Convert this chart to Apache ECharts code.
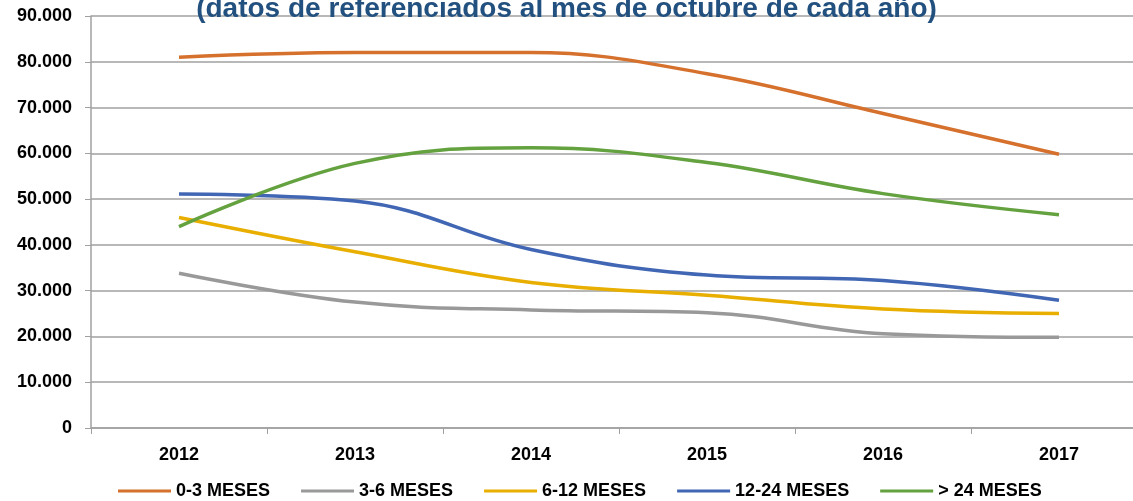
<!DOCTYPE html>
<html>
<head>
<meta charset="utf-8">
<script src="https://cdn.jsdelivr.net/npm/echarts@6/dist/echarts.min.js"></script>
<style>
  html, body { margin: 0; padding: 0; background: #fff; }
  #chart { width: 1133px; height: 501px; }
</style>
</head>
<body>
<div id="chart"></div>
<script>
// años y valores
var years = ['2012', '2013', '2014', '2015', '2016', '2017'];
var meses0_3 = [81000, 82000, 82000, 77400, 68700, 59800];
var meses3_6 = [33800, 27500, 25800, 25200, 20600, 19800];
var meses6_12 = [46000, 38500, 31800, 29000, 26000, 25000];
var meses12_24 = [51100, 49600, 39000, 33400, 32200, 27900];
var meses24 = [44000, 57800, 61200, 58000, 51200, 46600];

var seriesNames = ['0-3 MESES', '3-6 MESES', '6-12 MESES', '12-24 MESES', '> 24 MESES'];
var seriesColors = ['#D6702D', '#999999', '#E8AE00', '#4066B4', '#64A13F'];
var seriesData = [meses0_3, meses3_6, meses6_12, meses12_24, meses24];

function miles(v) {
    if (v === 0) return '0';
    return String(v).replace(/\B(?=(\d{3})+(?!\d))/g, '.');
}

var series = [];
for (var i = 0; i < seriesNames.length; i++) {
    series.push({
        name: seriesNames[i],
        type: 'line',
        data: seriesData[i],
        smooth: 0.4,
        showSymbol: false,
        lineStyle: { color: seriesColors[i], width: 3.5 },
        itemStyle: { color: seriesColors[i] }
    });
}

var myChart = echarts.init(document.getElementById('chart'));
myChart.setOption({
    animation: false,
    title: {
        text: '(datos de referenciados al mes de octubre de cada año)',
        left: 'center',
        top: -10,
        textStyle: {
            color: '#22507F',
            fontSize: 28,
            fontWeight: 'bold',
            fontFamily: 'Liberation Sans'
        }
    },
    legend: {
        data: seriesNames,
        top: 477,
        left: 113,
        itemWidth: 53,
        itemHeight: 3,
        itemGap: 31,
        icon: 'rect',
        textStyle: {
            color: '#000',
            fontSize: 18,
            fontWeight: 'bold',
            fontFamily: 'Liberation Sans'
        }
    },
    grid: {
        left: 91,
        top: 16,
        width: 1056,
        bottom: 73,
        outerBoundsMode: 'none'
    },
    xAxis: {
        type: 'category',
        data: years,
        boundaryGap: true,
        axisLine: { lineStyle: { color: '#A0A0A0', width: 1.5 } },
        axisTick: { show: true, length: 6, lineStyle: { color: '#A0A0A0' } },
        axisLabel: {
            color: '#000',
            fontSize: 18,
            fontWeight: 'bold',
            fontFamily: 'Liberation Sans',
            margin: 18
        }
    },
    yAxis: {
        type: 'value',
        min: 0,
        max: 90000,
        interval: 10000,
        axisLine: { show: true, lineStyle: { color: '#A0A0A0', width: 1.5 } },
        axisTick: { show: true, length: 6, lineStyle: { color: '#A0A0A0' } },
        splitLine: { lineStyle: { color: '#A0A0A0', width: 1.5 } },
        axisLabel: {
            color: '#000',
            fontSize: 18,
            fontWeight: 'bold',
            fontFamily: 'Liberation Sans',
            margin: 19,
            formatter: miles
        }
    },
    series: series
});
</script>
</body>
</html>
